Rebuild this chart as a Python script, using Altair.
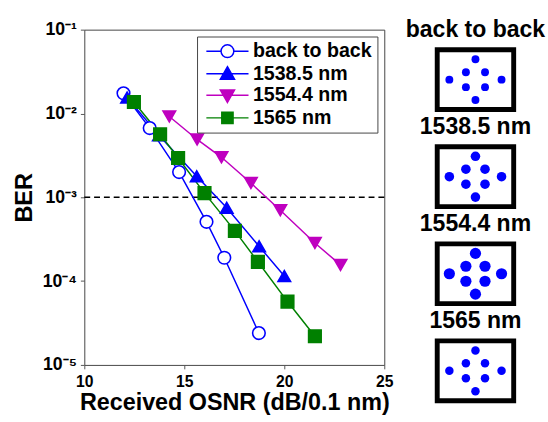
import altair as alt
import pandas as pd

FONT = "Liberation Sans"

series = ["back to back", "1538.5 nm", "1554.4 nm", "1565 nm"]
line_colors = ["#0000ff", "#0000ff", "#bf00bf", "#008000"]
fill_colors = ["#ffffff", "#0000ff", "#bf00bf", "#008000"]
shapes = ["circle", "triangle-up", "triangle-down", "square"]

b2b_osnr = [11.96, 13.27, 14.74, 16.11, 17.0, 18.73]
b2b_ber = [1.74e-2, 6.7e-3, 2.0e-3, 5.1e-4, 1.9e-4, 2.4e-5]
c1538_osnr = [12.14, 13.73, 15.62, 17.12, 18.74, 20.0]
c1538_ber = [1.55e-2, 5.5e-3, 1.78e-3, 7.5e-4, 2.6e-4, 1.15e-4]
c1554_osnr = [14.25, 15.64, 16.86, 18.33, 19.80, 21.53, 22.81]
c1554_ber = [9.2e-3, 4.9e-3, 3.0e-3, 1.48e-3, 7.0e-4, 2.85e-4, 1.56e-4]
c1565_osnr = [12.48, 13.79, 14.69, 16.01, 17.53, 18.68, 20.16, 21.53]
c1565_ber = [1.37e-2, 5.65e-3, 2.94e-3, 1.12e-3, 3.98e-4, 1.7e-4, 5.7e-5, 2.2e-5]

fec_threshold = [1e-3]
x_ticks = [10, 15, 20, 25]
y_ticks = [1e-5, 1e-4, 1e-3, 1e-2, 1e-1]
y_tick_labels = ["10\u207b\u2075", "10\u207b\u2074", "10\u207b\u00b3", "10\u207b\u00b2", "10\u207b\u00b9"]

# constellation (star 8-QAM) positions and blob sizes per panel
const_i = [1, -1, 1, -1, 2.73, -2.73, 0, 0]
const_q = [1, 1, -1, -1, 0, 0, 2.73, -2.73]
blob_sizes = [65, 95, 130, 75]

# legend glyphs: line through marker
legend_paths = [
    "M-4.3,0L-1.3,0M1.3,0L4.3,0M-1.3,0A1.3,1.3 0 1,1 1.3,0A1.3,1.3 0 1,1 -1.3,0Z",
    "M-4.3,0L4.3,0M0,-1.45L1.45,1.1L-1.45,1.1Z",
    "M-4.3,0L4.3,0M0,1.45L1.45,-1.1L-1.45,-1.1Z",
    "M-4.3,0L4.3,0M-1.15,-1.15L1.15,-1.15L1.15,1.15L-1.15,1.15Z",
]

rows = []
for name, xs, ys in [
    (series[0], b2b_osnr, b2b_ber),
    (series[1], c1538_osnr, c1538_ber),
    (series[2], c1554_osnr, c1554_ber),
    (series[3], c1565_osnr, c1565_ber),
]:
    for xv, yv in zip(xs, ys):
        rows.append({"series": name, "osnr": xv, "ber": yv})
df = pd.DataFrame(rows)

label_arr = "[" + ",".join(f"'{lab}'" for lab in y_tick_labels) + "]"

x_enc = alt.X(
    "osnr:Q",
    scale=alt.Scale(domain=[10, 25], nice=False, zero=False),
    axis=alt.Axis(
        values=x_ticks, title="Received OSNR (dB/0.1 nm)", grid=False,
        labelFont=FONT, labelFontSize=16, labelFontWeight="bold", labelColor="black",
        titleFont=FONT, titleFontSize=23.8, titleFontWeight="bold", titleColor="black",
        tickSize=4, tickColor="#555", domain=False, labelPadding=5, titlePadding=1,
        labelFlush=False,
    ),
)
y_enc = alt.Y(
    "ber:Q",
    scale=alt.Scale(type="log", domain=[1e-5, 1e-1], nice=False),
    axis=alt.Axis(
        values=y_ticks, title="BER", grid=False,
        labelExpr=label_arr + "[round(log(datum.value)/LN10) + 5]",
        labelFont=FONT, labelFontSize=18, labelFontWeight="bold", labelColor="black",
        titleFont=FONT, titleFontSize=24, titleFontWeight="bold", titleColor="black",
        tickSize=4, tickColor="#555", domain=False, labelPadding=4, titlePadding=6,
        labelFlush=False,
    ),
)

base = alt.Chart(df)

lines = base.mark_line(strokeWidth=1.5).encode(
    x=x_enc, y=y_enc,
    stroke=alt.Stroke("series:N", scale=alt.Scale(domain=series, range=line_colors), legend=None),
    detail="series:N",
)

points = base.mark_point(size=165, strokeWidth=1.6, filled=True, opacity=1).encode(
    x="osnr:Q", y="ber:Q",
    shape=alt.Shape("series:N", scale=alt.Scale(domain=series, range=shapes), legend=None),
    fill=alt.Fill("series:N", scale=alt.Scale(domain=series, range=fill_colors), legend=None),
    stroke=alt.Stroke("series:N", scale=alt.Scale(domain=series, range=line_colors), legend=None),
)

leg = alt.Legend(
    title=None, orient="none", legendX=115, legendY=7,
    fillColor="white", strokeColor="#444", padding=5, cornerRadius=0,
    labelFont=FONT, labelFontSize=20, labelFontWeight="bold", labelColor="black",
    symbolSize=100, symbolStrokeWidth=1.5, symbolOffset=16, labelOffset=16,
    rowPadding=2,
)

legend_layer = base.transform_filter("datum.osnr < 0").mark_point(filled=True, opacity=1).encode(
    shape=alt.Shape("series:N", scale=alt.Scale(domain=series, range=legend_paths), legend=leg),
    fill=alt.Fill("series:N", scale=alt.Scale(domain=series, range=fill_colors), legend=leg),
    stroke=alt.Stroke("series:N", scale=alt.Scale(domain=series, range=line_colors), legend=leg),
)

rule = alt.Chart(pd.DataFrame({"ber": fec_threshold})).mark_rule(
    strokeDash=[6, 4], color="black", strokeWidth=1.5
).encode(y="ber:Q")

main = alt.layer(rule, lines, points, legend_layer).resolve_scale(
    shape="independent", fill="independent", stroke="independent"
).properties(
    width=306, height=342,
    view=alt.ViewBackground(stroke="#444", strokeWidth=1),
)

const_df = pd.DataFrame({"i": const_i, "q": const_q})


def panel(k):
    return alt.Chart(
        const_df,
        title=alt.Title(series[k], font=FONT, fontSize=23.5, fontWeight="bold", color="black", offset=9),
    ).mark_circle(size=blob_sizes[k], color="#0000ff", opacity=1).encode(
        x=alt.X("i:Q", scale=alt.Scale(domain=[-4, 4]), axis=None),
        y=alt.Y("q:Q", scale=alt.Scale(domain=[-4, 4]), axis=None),
    ).properties(
        width=78, height=61,
        view=alt.ViewBackground(stroke="black", strokeWidth=5, fill="white"),
    )


spacer = alt.Chart(const_df).mark_point(opacity=0).encode(
    x=alt.X("i:Q", axis=None), y=alt.Y("q:Q", axis=None)
).properties(width=78, height=1, view=alt.ViewBackground(stroke="transparent"))

column = alt.vconcat(*[panel(k) for k in range(4)], spacing=38, bounds="flush")
right = alt.vconcat(spacer, column, spacing=19.5, bounds="flush")

chart = alt.hconcat(main, right, spacing=54, bounds="flush").properties(
    padding={"left": 12, "top": 11, "right": 0, "bottom": 5},
).configure(font=FONT)

chart.save("out.html", embed_options={"renderer": "svg", "actions": False})
